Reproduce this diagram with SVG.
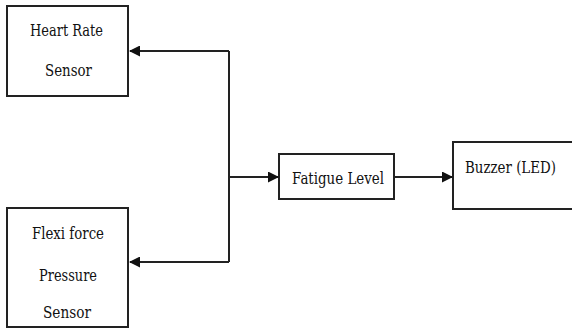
<svg xmlns="http://www.w3.org/2000/svg" width="572" height="329" viewBox="0 0 572 329">
<style>
.box{fill:#fff;stroke:#222;stroke-width:2}
.t{font-family:'DejaVu Serif',serif;font-size:17px;fill:#111}
.c{fill:none;stroke:#222;stroke-width:2}
</style>
<defs>
<marker id="ah" markerWidth="11" markerHeight="11" refX="10" refY="5.5" orient="auto" markerUnits="userSpaceOnUse">
<path d="M0,0 L11,5.5 L0,11 z" fill="#111"/>
</marker>
</defs>
<rect width="572" height="329" fill="#fff"/>
<g id="heart">
<rect class="box" x="7" y="6" width="121" height="90"/>
<text class="t" x="30" y="36" textLength="73" lengthAdjust="spacingAndGlyphs">Heart Rate</text>
<text class="t" x="45" y="76" textLength="47" lengthAdjust="spacingAndGlyphs">Sensor</text>
</g>
<g id="flexi">
<rect class="box" x="7" y="208" width="121" height="119"/>
<text class="t" x="32" y="239" textLength="72" lengthAdjust="spacingAndGlyphs">Flexi force</text>
<text class="t" x="39" y="281" textLength="58" lengthAdjust="spacingAndGlyphs">Pressure</text>
<text class="t" x="43" y="318" textLength="48" lengthAdjust="spacingAndGlyphs">Sensor</text>
</g>
<g id="fatigue">
<rect class="box" x="279" y="154" width="115" height="45"/>
<text class="t" x="292" y="184" textLength="92" lengthAdjust="spacingAndGlyphs">Fatigue Level</text>
</g>
<g id="buzzer">
<rect class="box" x="453" y="142" width="125" height="67"/>
<text class="t" x="465" y="173" font-size="15" textLength="91" lengthAdjust="spacingAndGlyphs">Buzzer (LED)</text>
</g>
<g id="connectors">
<polyline class="c" points="229,51 229,262"/>
<line class="c" x1="229" y1="51" x2="130" y2="51" marker-end="url(#ah)"/>
<line class="c" x1="229" y1="262" x2="130" y2="262" marker-end="url(#ah)"/>
<line class="c" x1="229" y1="177" x2="278" y2="177" marker-end="url(#ah)"/>
<line class="c" x1="394" y1="177" x2="452" y2="177" marker-end="url(#ah)"/>
</g>
</svg>
